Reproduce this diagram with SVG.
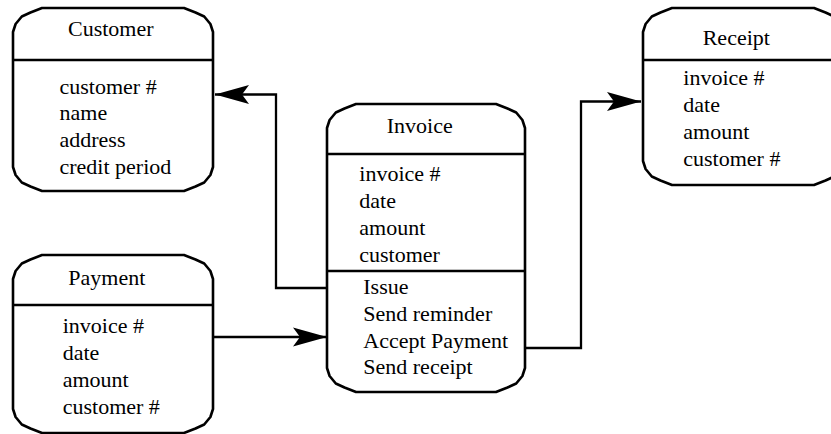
<svg xmlns="http://www.w3.org/2000/svg" width="831" height="434" viewBox="0 0 831 434">
  <style>
    .box { fill: #ffffff; stroke: #000000; stroke-width: 2.6; stroke-linejoin: round; }
    .rule { stroke: #000000; stroke-width: 2.6; }
    .conn { fill: none; stroke: #000000; stroke-width: 2.3; }
    .lbl { font-family: "Liberation Serif", "Times New Roman", serif; font-size: 22px; fill: #000000; }
  </style>
  <defs>
    <!-- barbed filled arrowhead, tip at the path end -->
    <marker id="arrow" markerUnits="userSpaceOnUse" viewBox="-36 -11 38 22" markerWidth="38" markerHeight="22" refX="0" refY="0" orient="auto">
      <path d="M0,0 L-34,-9.5 L-27,0 L-34,9.5 Z" fill="#000000"/>
    </marker>
  </defs>

  <g id="connectors">
    <path class="conn" d="M327,288 L276,288 L276,94.5 L215,94.5" marker-end="url(#arrow)"/>
    <path class="conn" d="M213,337 L327,337" marker-end="url(#arrow)"/>
    <path class="conn" d="M525,348 L581,348 L581,101.5 L641,101.5" marker-end="url(#arrow)"/>
  </g>

  <g id="customer">
    <path class="box" d="M13,32 L15.6,24 L21.8,16.5 L30.5,12.5 L42,8 L184,8 L195.5,12.5 L204.2,16.5 L210.4,24 L213,32 L213,167 L210.4,175 L204.2,182.5 L195.5,186.5 L184,191 L42,191 L30.5,186.5 L21.8,182.5 L15.6,175 L13,167 Z"/>
    <line class="rule" x1="13" y1="60" x2="213" y2="60"/>
    <g class="lbl">
      <text x="68" y="36">Customer</text>
      <text x="59.5" y="93.5">customer #</text>
      <text x="59.5" y="120">name</text>
      <text x="59.5" y="147">address</text>
      <text x="59.5" y="174">credit period</text>
    </g>
  </g>

  <g id="invoice">
    <path class="box" d="M327,128 L329.6,120 L335.8,112.5 L344.5,108.5 L356,104 L496,104 L507.5,108.5 L516.2,112.5 L522.4,120 L525,128 L525,368 L522.4,376 L516.2,383.5 L507.5,387.5 L496,392 L356,392 L344.5,387.5 L335.8,383.5 L329.6,376 L327,368 Z"/>
    <line class="rule" x1="327" y1="154" x2="525" y2="154"/>
    <line class="rule" x1="327" y1="271" x2="525" y2="271"/>
    <g class="lbl">
      <text x="386.7" y="133">Invoice</text>
      <text x="359.3" y="181">invoice #</text>
      <text x="359.3" y="208">date</text>
      <text x="359.3" y="235">amount</text>
      <text x="359.3" y="262">customer</text>
      <text x="363.3" y="293.5">Issue</text>
      <text x="363.3" y="320.5">Send reminder</text>
      <text x="363.3" y="347.5">Accept Payment</text>
      <text x="363.3" y="374">Send receipt</text>
    </g>
  </g>

  <g id="receipt">
    <path class="box" d="M643,32 L645.6,24 L651.8,16.5 L660.5,12.5 L672,8 L814,8 L825.5,12.5 L834.2,16.5 L840.4,24 L843,32 L843,161 L840.4,169 L834.2,176.5 L825.5,180.5 L814,185 L672,185 L660.5,180.5 L651.8,176.5 L645.6,169 L643,161 Z"/>
    <line class="rule" x1="643" y1="60" x2="843" y2="60"/>
    <g class="lbl">
      <text x="702.7" y="45">Receipt</text>
      <text x="683.3" y="85">invoice #</text>
      <text x="683.3" y="112">date</text>
      <text x="683.3" y="138.5">amount</text>
      <text x="683.3" y="166">customer #</text>
    </g>
  </g>

  <g id="payment">
    <path class="box" d="M13,279 L15.6,271 L21.8,263.5 L30.5,259.5 L42,255 L184,255 L195.5,259.5 L204.2,263.5 L210.4,271 L213,279 L213,409 L210.4,417 L204.2,424.5 L195.5,428.5 L184,433 L42,433 L30.5,428.5 L21.8,424.5 L15.6,417 L13,409 Z"/>
    <line class="rule" x1="13" y1="305" x2="213" y2="305"/>
    <g class="lbl">
      <text x="68.3" y="284.5">Payment</text>
      <text x="62.7" y="333">invoice #</text>
      <text x="62.7" y="359.5">date</text>
      <text x="62.7" y="386.5">amount</text>
      <text x="62.7" y="413.5">customer #</text>
    </g>
  </g>
</svg>
